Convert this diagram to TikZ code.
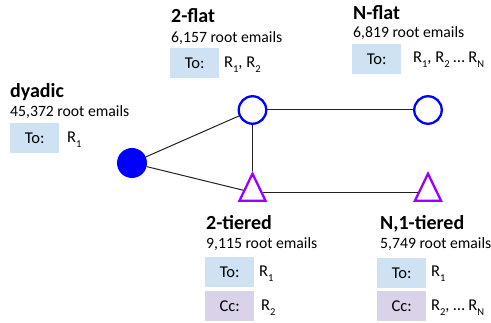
\documentclass[tikz,border=0pt]{standalone}
\usepackage{fontspec}
\setmainfont{Carlito}
\usetikzlibrary{shapes.geometric}
\definecolor{toblue}{HTML}{CFE2F3}
\definecolor{ccpurple}{HTML}{D9D2E9}
\definecolor{nodeblue}{HTML}{0000FF}
\definecolor{tripurple}{HTML}{9900FF}
\definecolor{linegray}{HTML}{222222}
\newcommand{\Rsub}[1]{R\raisebox{-4.5pt}{\fontsize{10.5}{11}\selectfont #1}}
\begin{document}
\begin{tikzpicture}[x=1pt,y=-1pt,
  ttl/.style={anchor=base west, inner sep=0pt, font=\fontsize{20}{20}\selectfont\bfseries},
  cnt/.style={anchor=base west, inner sep=0pt, font=\fontsize{15.7}{16}\selectfont},
  rtext/.style={anchor=base west, inner sep=0pt, font=\fontsize{16.5}{17}\selectfont},
  lbox/.style={anchor=north west, minimum width=49pt, minimum height=29.5pt, inner sep=0pt, font=\fontsize{16.5}{17}\selectfont},
  tobox/.style={lbox, fill=toblue},
  ccbox/.style={lbox, fill=ccpurple},
  hollow/.style={circle, draw=nodeblue, line width=2.3pt, minimum size=27.5pt, inner sep=0pt},
  solid/.style={circle, fill=nodeblue, minimum size=30pt, inner sep=0pt},
  tri/.style={isosceles triangle, isosceles triangle stretches, shape border rotate=90, draw=tripurple, line width=2.3pt, minimum width=26pt, minimum height=27pt, inner sep=0pt},
  conn/.style={draw=linegray, line width=1pt}
]
\useasboundingbox (0,0) rectangle (491,323);

% graph nodes
\node[solid] (dy) at (132,163) {};
\node[hollow] (f2) at (252.5,110) {};
\node[hollow] (fN) at (428,110) {};
\node[tri] (t2) at (252.5,192.5) {};
\node[tri] (tN) at (428,192.5) {};

\draw[conn] (dy) -- (f2);
\draw[conn] (dy) -- (t2);
\draw[conn] (f2) -- (fN);
\draw[conn] (f2) -- (t2.apex);
\draw[conn] (t2) -- (tN);

% dyadic
\node[ttl] (dyT) at (10,98) {dyadic};
\node[cnt] (dyC) at (10,117) {45,372 root emails};
\node[tobox] (dyTo) at (10,123) {To:};
\node[rtext] (dyR) at (67,143) {\Rsub{1}};

% 2-flat
\node[ttl] (f2T) at (171,23) {2-flat};
\node[cnt] (f2C) at (171,43) {6,157 root emails};
\node[tobox] (f2To) at (170,48) {To:};
\node[rtext] (f2R) at (224,68) {\Rsub{1}, \Rsub{2}};

% N-flat
\node[ttl] (fNT) at (353,20) {N-flat};
\node[cnt] (fNC) at (353,38) {6,819 root emails};
\node[tobox] (fNTo) at (352,44) {To:};
\node[rtext] (fNR) at (413,63) {\Rsub{1}, \Rsub{2} … \Rsub{N}};

% 2-tiered
\node[ttl] (t2T) at (206,230) {2-tiered};
\node[cnt] (t2C) at (206,249) {9,115 root emails};
\node[tobox] (t2To) at (205,257) {To:};
\node[ccbox] (t2Cc) at (205,291) {Cc:};
\node[rtext] (t2R1) at (259,277) {\Rsub{1}};
\node[rtext] (t2R2) at (261,311) {\Rsub{2}};

% N,1-tiered
\node[ttl] (tNT) at (380,230) {N,1-tiered};
\node[cnt] (tNC) at (380,249) {5,749 root emails};
\node[tobox] (tNTo) at (377,258) {To:};
\node[ccbox] (tNCc) at (377,291) {Cc:};
\node[rtext] (tNR1) at (431,277) {\Rsub{1}};
\node[rtext] (tNR2) at (431,311) {\Rsub{2}, … \Rsub{N}};
\end{tikzpicture}
\end{document}
